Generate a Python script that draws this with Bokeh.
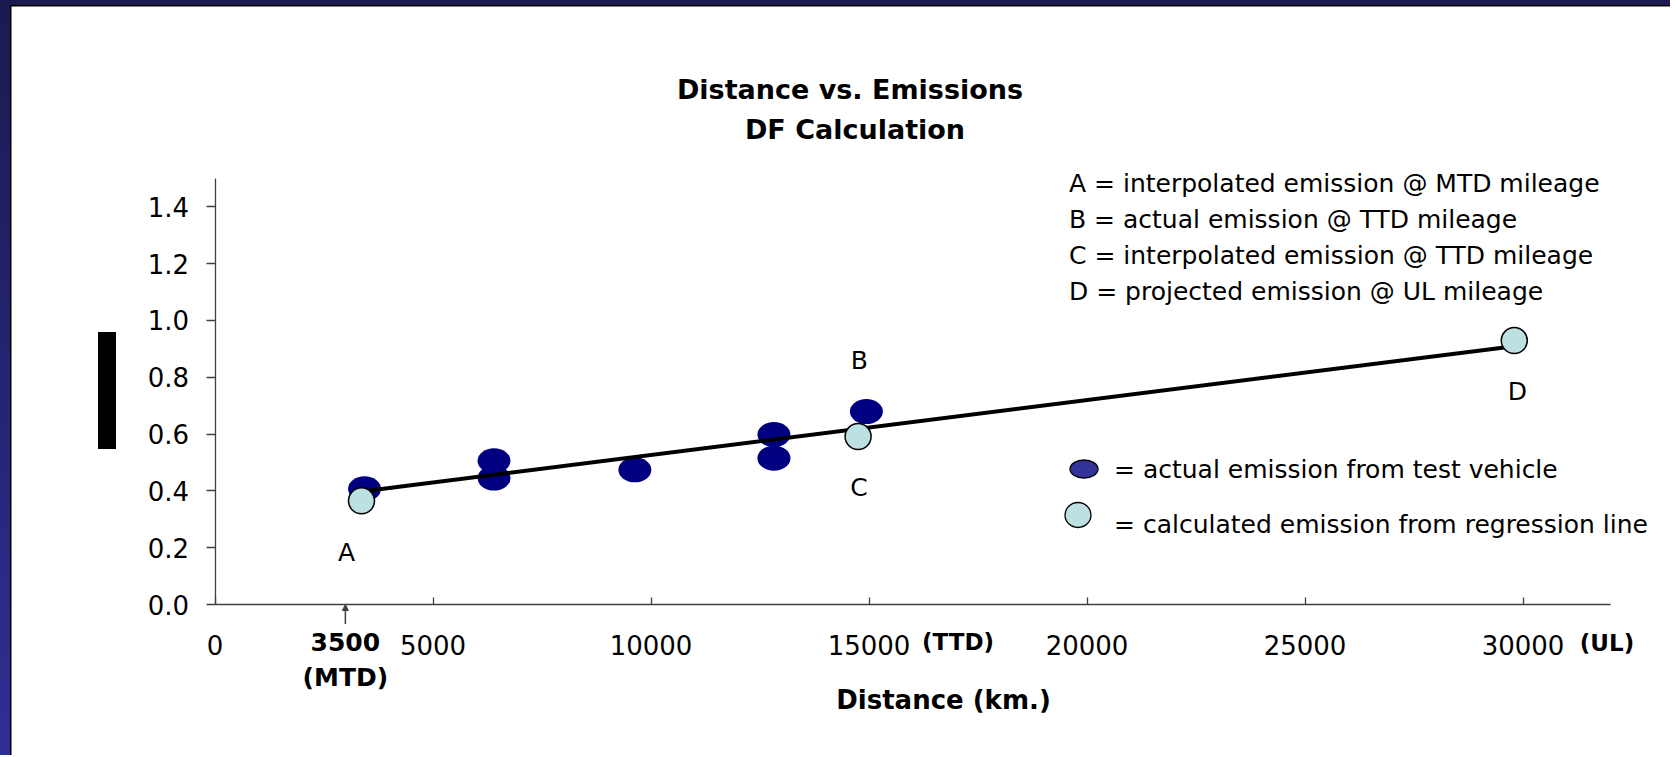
from bokeh.plotting import figure
from bokeh.models import Range1d, FixedTicker, Label, LinearAxis, Arrow, NormalHead
from bokeh.embed import file_html
from bokeh.resources import INLINE

# ---------------- data ----------------
actual_km = [3430, 6400, 6400, 9630, 12820, 12820, 14940]
actual_em = [0.407, 0.506, 0.445, 0.474, 0.598, 0.515, 0.679]

calc_km = [3360, 14750, 29800]
calc_em = [0.365, 0.591, 0.929]

line_km = [3360, 29800]
line_em = [0.398, 0.909]

x_ticks = [0, 5000, 10000, 15000, 20000, 25000, 30000]
x_tick_labels = ["0", "5000", "10000", "15000", "20000", "25000", "30000"]
y_ticks = [0.0, 0.2, 0.4, 0.6, 0.8, 1.0, 1.2, 1.4]
y_tick_labels = ["0.0", "0.2", "0.4", "0.6", "0.8", "1.0", "1.2", "1.4"]

mtd_km = 2990
notes = [
    "A = interpolated emission @ MTD mileage",
    "B = actual emission @ TTD mileage",
    "C = interpolated emission @ TTD mileage",
    "D = projected emission @ UL mileage",
]
legend_texts = ["= actual emission from test vehicle",
                "= calculated emission from regression line"]

# ---------------- layout geometry (page pixels) ----------------
DX, DY = 8.5, 6.5           # canvas origin sits this far above/left of the page origin
W, H = 1678, 763
X0, KX = 214.0, 0.0436      # page x of 0 km, px per km
Y0, KY = 605.5, 284.1       # page y of 0 emission, px per unit


def sx(px):
    return (px - X0) / KX


def sy(py):
    return (Y0 - py) / KY


FONT = "DejaVu Sans"
NAVY = "#000080"
LIGHT = "#BDE0E2"
AXC = "#404040"

p = figure(width=W, height=H, output_backend="svg", toolbar_location=None,
           x_range=Range1d(sx(-DX), sx(W - DX)), y_range=Range1d(sy(H - DY), sy(-DY)),
           x_axis_location=None, y_axis_location=None,
           min_border=0, outline_line_color=None,
           background_fill_color="white", border_fill_color="white",
           margin=(-8, 0, -8, -8))
p.grid.visible = False

# page frame strips (dark slide border)
n = 30
seg = [-DY + H * i / n for i in range(n + 1)]
c0 = (0x1b, 0x1a, 0x4f)
c1 = (0x30, 0x2f, 0x95)
cols = ["#%02x%02x%02x" % tuple(int(a + (b - a) * (i + 0.5) / n) for a, b in zip(c0, c1))
        for i in range(n)]
p.quad(left=[sx(-DX)] * n, right=[sx(9)] * n, top=[sy(s) for s in seg[:-1]],
       bottom=[sy(s + 1) for s in seg[1:]], fill_color=cols, line_color=cols,
       line_width=1)
p.quad(left=[sx(-DX)], right=[sx(W)], top=[sy(-DY)], bottom=[sy(6)],
       fill_color="#1b1a4f", line_color=None)
p.quad(left=[sx(9)], right=[sx(10.5)], top=[sy(6)], bottom=[sy(H)],
       fill_color="black", line_color=None)
p.quad(left=[sx(9)], right=[sx(W)], top=[sy(6)], bottom=[sy(7.5)],
       fill_color="black", line_color=None)

# axes at fixed data locations
xax = LinearAxis(fixed_location=0, bounds=(0, 32000), ticker=FixedTicker(ticks=x_ticks))
yax = LinearAxis(fixed_location=0, bounds=(0, 1.5), ticker=FixedTicker(ticks=y_ticks))
for ax in (xax, yax):
    ax.axis_line_color = AXC
    ax.axis_line_width = 1.3
    ax.major_tick_line_color = AXC
    ax.major_tick_line_width = 1.3
    ax.minor_tick_line_color = None
    ax.major_label_text_font = FONT
    ax.major_label_text_font_size = "26px"
    ax.major_label_text_color = "black"
xax.major_label_overrides = dict(zip(x_ticks, x_tick_labels))
xax.major_tick_in = 7
xax.major_tick_out = 0
xax.major_label_standoff = 30
yax.major_label_overrides = dict(zip(y_ticks, y_tick_labels))
yax.major_tick_in = 0
yax.major_tick_out = 9
yax.major_label_standoff = 17
p.add_layout(xax, "below")
p.add_layout(yax, "left")

# data marks
p.ellipse(actual_km, actual_em, width=33, height=25, width_units="screen",
          height_units="screen", fill_color=NAVY, line_color=None)
p.line(line_km, line_em, line_color="black", line_width=4)
p.scatter(calc_km, calc_em, size=26, fill_color=LIGHT, line_color="black", line_width=1.5)


def lab(x, y, t, size="25px", bold=False, align="center", **kw):
    p.add_layout(Label(x=x, y=y, text=t, text_font=FONT, text_align=align,
                       text_baseline="middle", text_font_size=size, text_color="black",
                       text_font_style="bold" if bold else "normal", **kw))


# point letters
lab(calc_km[0], calc_em[0], "A", x_offset=-15, y_offset=-52)
lab(actual_km[6], actual_em[6], "B", x_offset=-7, y_offset=51)
lab(calc_km[1], calc_em[1], "C", x_offset=1, y_offset=-51)
lab(calc_km[2], calc_em[2], "D", x_offset=3, y_offset=-51)

# titles
lab(sx(849), sy(90.5), "Distance vs. Emissions", size="27px", bold=True)
lab(sx(854), sy(130), "DF Calculation", size="27px", bold=True)
lab(sx(947), sy(701), "Distance  (km.)", size="26px", bold=True)

# bold tick annotations
lab(mtd_km, sy(643), "3500", size="25px", bold=True)
lab(mtd_km, sy(678), "(MTD)", size="25px", bold=True)
lab(sx(957), sy(643), "(TTD)", size="23px", bold=True)
lab(sx(1606), sy(644), "(UL)", size="23px", bold=True)

# MTD marker
p.add_layout(Arrow(end=NormalHead(size=6, fill_color=AXC, line_color=AXC),
                   x_start=mtd_km, y_start=sy(625), x_end=mtd_km, y_end=0.0,
                   line_color=AXC, line_width=1.5))

# notes
for i, t in enumerate(notes):
    lab(sx(1068), sy(184 + 36.3 * i), t, size="25px", align="left")

# legend
p.ellipse([sx(1083)], [sy(470)], width=28, height=18, width_units="screen",
          height_units="screen", fill_color="#333399", line_color="black", line_width=1.3)
p.ellipse([sx(1077)], [sy(516)], width=26, height=25, width_units="screen",
          height_units="screen", fill_color=LIGHT, line_color="black", line_width=1.3)
lab(sx(1113), sy(470), legend_texts[0], size="25px", align="left")
lab(sx(1113), sy(525), legend_texts[1], size="25px", align="left")

# y-axis label (blacked out bar)
p.quad(left=[sx(97)], right=[sx(115)], top=[sy(333)], bottom=[sy(450)],
       fill_color="black", line_color=None)

open("out.html", "w").write(file_html(p, INLINE))
